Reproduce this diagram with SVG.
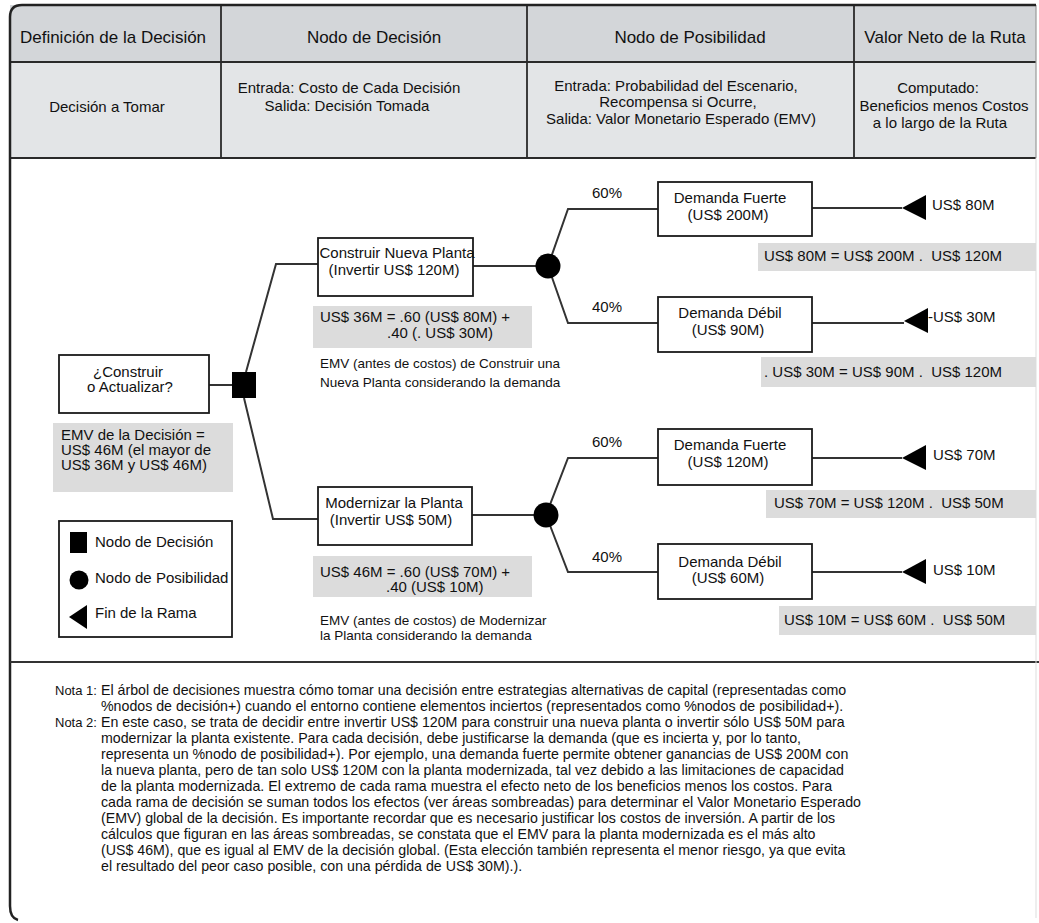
<svg xmlns="http://www.w3.org/2000/svg" width="1039" height="923" viewBox="0 0 1039 923">
<style>
text{font-family:"Liberation Sans",Arial,sans-serif;fill:#111}
.h1{font-size:17px;text-anchor:middle}
.h2{font-size:15px;text-anchor:middle}
.t{font-size:15px}
.tm{font-size:15px;text-anchor:middle}
.s{font-size:13.5px}
.n{font-size:14.2px}
.nl{font-size:13px}
.box{fill:#fff;stroke:#1a1a1a;stroke-width:1.8}
.shade{fill:#dcdcdc}
.conn{fill:none;stroke:#333;stroke-width:2}
.grid{stroke:#2a2a2a;stroke-width:1.8}
</style>
<defs>
<polygon id="tri" points="0,0 24,-13 24,12" fill="#000"/>
</defs>
<rect width="1039" height="923" fill="#fff"/>
<g id="header">
<rect x="10" y="5" width="1026" height="57" fill="#d3d6d9"/>
<rect x="10" y="62" width="1026" height="96" fill="#e3e5e7"/>
<line class="grid" x1="10" y1="62" x2="1036" y2="62"/>
<line class="grid" x1="10" y1="158" x2="1036" y2="158"/>
<line class="grid" x1="221" y1="5" x2="221" y2="158"/>
<line class="grid" x1="527" y1="5" x2="527" y2="158"/>
<line class="grid" x1="854" y1="5" x2="854" y2="158"/>
<line x1="1036" y1="5" x2="1036" y2="158" stroke="#999" stroke-width="1.2"/>
<text class="h1" x="113" y="43">Definición de la Decisión</text>
<text class="h1" x="374" y="43">Nodo de Decisión</text>
<text class="h1" x="690" y="43">Nodo de Posibilidad</text>
<text class="h1" x="945" y="43">Valor Neto de la Ruta</text>
<text class="h2" x="107" y="112">Decisión a Tomar</text>
<text class="h2" x="349" y="93">Entrada: Costo de Cada Decisión</text>
<text class="h2" x="347" y="111">Salida: Decisión Tomada</text>
<text class="h2" x="676" y="91">Entrada: Probabilidad del Escenario,</text>
<text class="h2" x="678" y="107">Recompensa si Ocurre,</text>
<text class="h2" x="681" y="124">Salida: Valor Monetario Esperado (EMV)</text>
<text class="h2" x="938" y="93">Computado:</text>
<text class="h2" x="944" y="111">Beneficios menos Costos</text>
<text class="h2" x="940" y="128">a lo largo de la Ruta</text>
</g>
<g id="frame">
<path d="M1036,5 H22 Q10,5 10,17 V906 Q10,918 18,920" fill="none" stroke="#222" stroke-width="2.5"/>
<line x1="10" y1="662" x2="1039" y2="662" stroke="#333" stroke-width="2"/>
<line x1="1036" y1="158" x2="1036" y2="918" stroke="#ddd" stroke-width="1"/>
</g>
<g id="shades">
<rect class="shade" x="313" y="306" width="219" height="42"/>
<rect class="shade" x="758" y="243" width="278" height="28"/>
<rect class="shade" x="761" y="357" width="275" height="30"/>
<rect class="shade" x="53" y="423" width="180" height="69"/>
<rect class="shade" x="313" y="556" width="219" height="41"/>
<rect class="shade" x="766" y="490" width="270" height="28"/>
<rect class="shade" x="779" y="606" width="257" height="29"/>
</g>
<g id="connectors">
<path class="conn" d="M209,385 H232"/>
<path class="conn" d="M246,372 L276,264 H318"/>
<path class="conn" d="M244,398 L273,519 H318"/>
<path class="conn" d="M473,266 H536"/>
<path class="conn" d="M548,266 L568,209 H658"/>
<path class="conn" d="M548,266 L568,323 H658"/>
<path class="conn" d="M812,208 H902"/>
<path class="conn" d="M812,323 H904"/>
<path class="conn" d="M472,515 H534"/>
<path class="conn" d="M546,515 L568,458 H658"/>
<path class="conn" d="M546,515 L568,572 H658"/>
<path class="conn" d="M812,458 H902"/>
<path class="conn" d="M812,572 H902"/>
</g>
<g id="root">
<rect class="box" x="59" y="355" width="150" height="58"/>
<text class="tm" x="128" y="377">¿Construir</text>
<text class="tm" x="130" y="392">o Actualizar?</text>
</g>
<g id="decision-node">
<rect x="232" y="372" width="24" height="26" fill="#000"/>
</g>
<g id="emv-decision">
<text class="t" x="61" y="440">EMV de la Decisión =</text>
<text class="t" x="61" y="455">US$ 46M (el mayor de</text>
<text class="t" x="61" y="470">US$ 36M y US$ 46M)</text>
</g>
<g id="legend">
<rect class="box" x="59" y="521" width="173" height="116"/>
<rect x="70" y="532" width="17" height="21" fill="#000"/>
<text class="t" x="95" y="547">Nodo de Decisión</text>
<circle cx="79" cy="580" r="9.5" fill="#000"/>
<text class="t" x="95" y="583">Nodo de Posibilidad</text>
<polygon points="69,617 87,605 87,629" fill="#000"/>
<text class="t" x="95" y="618">Fin de la Rama</text>
</g>
<g id="build">
<rect class="box" x="318" y="238" width="155" height="58"/>
<text class="tm" x="397" y="258">Construir Nueva Planta</text>
<text class="tm" x="394" y="275">(Invertir US$ 120M)</text>
<text class="t" x="320" y="322">US$ 36M = .60 (US$ 80M) +</text>
<text class="t" x="387" y="338">.40 (. US$ 30M)</text>
<text class="s" x="320" y="368">EMV (antes de costos) de Construir una</text>
<text class="s" x="320" y="387">Nueva Planta considerando la demanda</text>
</g>
<g id="chance-build">
<circle cx="548" cy="266" r="12.5" fill="#000"/>
<text class="t" x="592" y="198">60%</text>
<text class="t" x="592" y="312">40%</text>
</g>
<g id="build-strong">
<rect class="box" x="658" y="182" width="154" height="54"/>
<text class="tm" x="730" y="203">Demanda Fuerte</text>
<text class="tm" x="728" y="220">(US$ 200M)</text>
<use href="#tri" x="902" y="208"/>
<text class="t" x="932" y="210">US$ 80M</text>
<text class="t" x="764" y="261">US$ 80M = US$ 200M .&#160; US$ 120M</text>
</g>
<g id="build-weak">
<rect class="box" x="658" y="297" width="154" height="55"/>
<text class="tm" x="730" y="318">Demanda Débil</text>
<text class="tm" x="728" y="335">(US$ 90M)</text>
<use href="#tri" x="904" y="321"/>
<text class="t" x="928" y="322">-US$ 30M</text>
<text class="t" x="764" y="377">. US$ 30M = US$ 90M .&#160; US$ 120M</text>
</g>
<g id="modernize">
<rect class="box" x="318" y="487" width="154" height="58"/>
<text class="tm" x="394" y="508">Modernizar la Planta</text>
<text class="tm" x="391" y="525">(Invertir US$ 50M)</text>
<text class="t" x="320" y="577">US$ 46M = .60 (US$ 70M) +</text>
<text class="t" x="386" y="592">.40 (US$ 10M)</text>
<text class="s" x="320" y="625">EMV (antes de costos) de Modernizar</text>
<text class="s" x="320" y="640">la Planta considerando la demanda</text>
</g>
<g id="chance-modernize">
<circle cx="546" cy="515" r="12.5" fill="#000"/>
<text class="t" x="592" y="447">60%</text>
<text class="t" x="592" y="562">40%</text>
</g>
<g id="mod-strong">
<rect class="box" x="658" y="429" width="154" height="56"/>
<text class="tm" x="730" y="450">Demanda Fuerte</text>
<text class="tm" x="728" y="467">(US$ 120M)</text>
<use href="#tri" x="902" y="458"/>
<text class="t" x="933" y="460">US$ 70M</text>
<text class="t" x="774" y="508">US$ 70M = US$ 120M .&#160; US$ 50M</text>
</g>
<g id="mod-weak">
<rect class="box" x="658" y="544" width="154" height="55"/>
<text class="tm" x="730" y="567">Demanda Débil</text>
<text class="tm" x="728" y="583">(US$ 60M)</text>
<use href="#tri" x="902" y="572"/>
<text class="t" x="933" y="575">US$ 10M</text>
<text class="t" x="784" y="625">US$ 10M = US$ 60M .&#160; US$ 50M</text>
</g>
<g id="notes">
<text class="nl" x="55" y="695">Nota 1:</text>
<text class="n" x="101" y="695">El árbol de decisiones muestra cómo tomar una decisión entre estrategias alternativas de capital (representadas como</text>
<text class="n" x="101" y="711">%nodos de decisión+) cuando el entorno contiene elementos inciertos (representados como %nodos de posibilidad+).</text>
<text class="nl" x="55" y="727">Nota 2:</text>
<text class="n" x="101" y="727">En este caso, se trata de decidir entre invertir US$ 120M para construir una nueva planta o invertir sólo US$ 50M para</text>
<text class="n" x="101" y="743">modernizar la planta existente. Para cada decisión, debe justificarse la demanda (que es incierta y, por lo tanto,</text>
<text class="n" x="101" y="759">representa un %nodo de posibilidad+). Por ejemplo, una demanda fuerte permite obtener ganancias de US$ 200M con</text>
<text class="n" x="101" y="775">la nueva planta, pero de tan solo US$ 120M con la planta modernizada, tal vez debido a las limitaciones de capacidad</text>
<text class="n" x="101" y="791">de la planta modernizada. El extremo de cada rama muestra el efecto neto de los beneficios menos los costos. Para</text>
<text class="n" x="101" y="807">cada rama de decisión se suman todos los efectos (ver áreas sombreadas) para determinar el Valor Monetario Esperado</text>
<text class="n" x="101" y="823">(EMV) global de la decisión. Es importante recordar que es necesario justificar los costos de inversión. A partir de los</text>
<text class="n" x="101" y="839">cálculos que figuran en las áreas sombreadas, se constata que el EMV para la planta modernizada es el más alto</text>
<text class="n" x="101" y="855">(US$ 46M), que es igual al EMV de la decisión global. (Esta elección también representa el menor riesgo, ya que evita</text>
<text class="n" x="101" y="871">el resultado del peor caso posible, con una pérdida de US$ 30M).).</text>
</g>
</svg>
